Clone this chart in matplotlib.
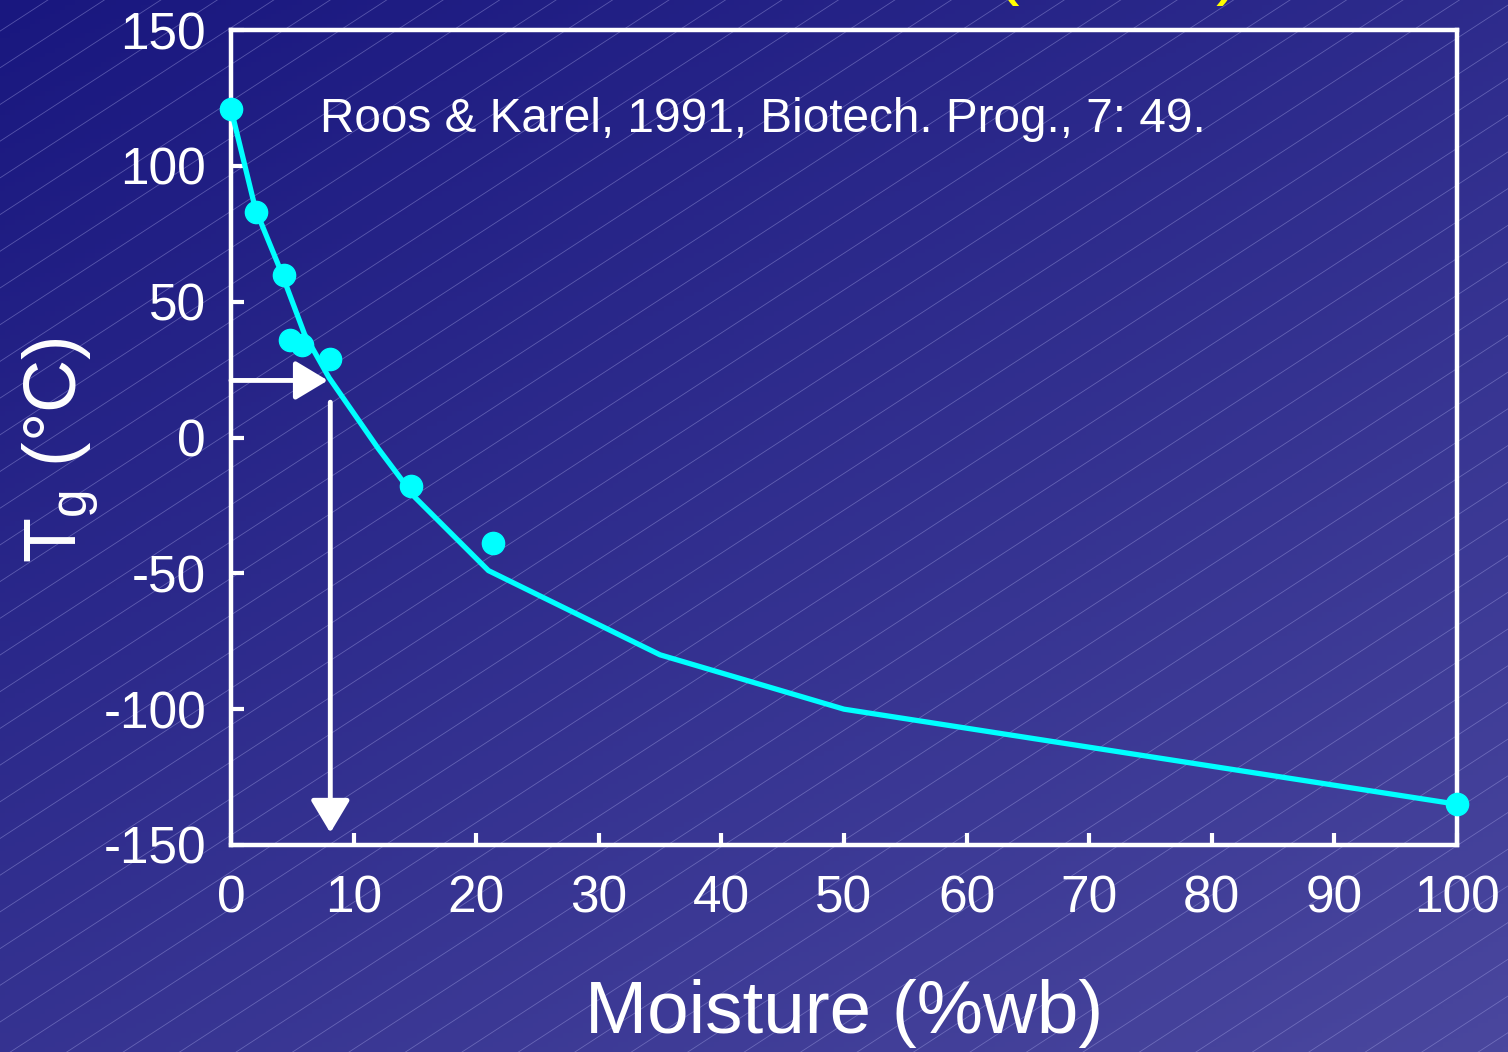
import numpy as np
import matplotlib
matplotlib.use("Agg")
import matplotlib.pyplot as plt

# ---- data ----
moisture_pts = [0, 2.0, 4.3, 4.8, 5.8, 8.1, 14.7, 21.4, 100]
tg_pts = [121, 83, 60, 36, 34, 29, -18, -39, -135]

curve_x = [0, 2, 4, 6, 8, 10, 12, 15, 21, 35, 50, 100]
curve_y = [121, 84, 62, 38, 22, 9, -4, -22, -49, -80, -100, -135]

x_ticks = [0, 10, 20, 30, 40, 50, 60, 70, 80, 90, 100]
y_ticks = [-150, -100, -50, 0, 50, 100, 150]

h_arrow = (0, 21, 7.9, 21)        # x0, y0, x1, y1
v_arrow = (8.1, 13, 8.1, -145.5)

citation = "Roos & Karel, 1991, Biotech. Prog., 7: 49."

plt.rcParams['font.family'] = ['Liberation Sans', 'DejaVu Sans']
plt.rcParams['mathtext.fontset'] = 'custom'
plt.rcParams['mathtext.rm'] = 'Liberation Sans'
plt.rcParams['mathtext.it'] = 'Liberation Sans'
plt.rcParams['axes.unicode_minus'] = False

W, H = 1508, 1052
fig = plt.figure(figsize=(W / 100, H / 100), dpi=100)

# ---- background gradient with diagonal hatch ----
bg = fig.add_axes([0, 0, 1, 1], zorder=-10)
bg.set_xlim(0, W)
bg.set_ylim(0, H)
bg.axis('off')
xx, yy = np.meshgrid(np.linspace(0, 1, 300), np.linspace(0, 1, 220))
t = 0.42 * xx + 0.58 * yy  # yy: 0 top -> 1 bottom
c0 = np.array([25, 23, 127]) / 255
c1 = np.array([74, 71, 158]) / 255
img = c0[None, None, :] * (1 - t[..., None]) + c1[None, None, :] * t[..., None]
bg.imshow(img, extent=[0, W, 0, H], origin='upper', aspect='auto', zorder=0)
slope = 0.65
spacing = 36.7
c_ref = (H - 228.3) - slope * 600
ks = np.arange(-60, 60)
for k in ks:
    c = c_ref + k * spacing
    bg.plot([0, W], [c, c + slope * W], color=(0.65, 0.65, 0.9), lw=0.6, alpha=0.42, zorder=1)

# partially visible yellow title (cut off at top)
fig.text(1007 / W, 1.0 + 9 / H, "(", color='#ffff00', fontsize=53, ha='center', va='baseline')
fig.text(1228 / W, 1.0 + 9 / H, ")", color='#ffff00', fontsize=53, ha='center', va='baseline')

# ---- main axes ----
ax = fig.add_axes([231 / W, 1 - 845 / H, (1457 - 231) / W, (845 - 30) / H])
ax.set_facecolor('none')
ax.set_xlim(0, 100)
ax.set_ylim(-150, 150)

for s in ax.spines.values():
    s.set_color('white')
    s.set_linewidth(3.2)

ax.set_xticks(x_ticks)
ax.set_yticks(y_ticks)
ax.tick_params(axis='both', direction='in', length=9, width=3, colors='white',
               labelsize=37, top=False, right=False)
ax.tick_params(axis='x', pad=21)
ax.tick_params(axis='y', pad=18)

ax.plot(curve_x, curve_y, color='#00ffff', lw=3.8, zorder=3, clip_on=False)
ax.plot(moisture_pts, tg_pts, 'o', color='#00ffff', ms=16, zorder=4, clip_on=False)

arrow_kw = dict(arrowstyle='-|>,head_length=1.0,head_width=0.6', color='white',
                lw=3.5, mutation_scale=20, shrinkA=0, shrinkB=0)
ax.annotate('', xy=(h_arrow[2], h_arrow[3]), xytext=(h_arrow[0], h_arrow[1]),
            arrowprops=arrow_kw, zorder=5)
ax.annotate('', xy=(v_arrow[2], v_arrow[3]), xytext=(v_arrow[0], v_arrow[1]),
            arrowprops=arrow_kw, zorder=5)

ax.text(7.26, 112.3, citation, color='white', fontsize=34.4, ha='left', va='baseline')

ax.set_xlabel("Moisture (%wb)", color='white', fontsize=53.7)
ax.set_ylabel(r"T$_{\mathregular{g}}$ (°C)", color='white', fontsize=53)
ax.xaxis.set_label_coords(0.5, -0.165)
ax.yaxis.set_label_coords(-0.105, 0.485)

fig.savefig("out.png", dpi=100)
